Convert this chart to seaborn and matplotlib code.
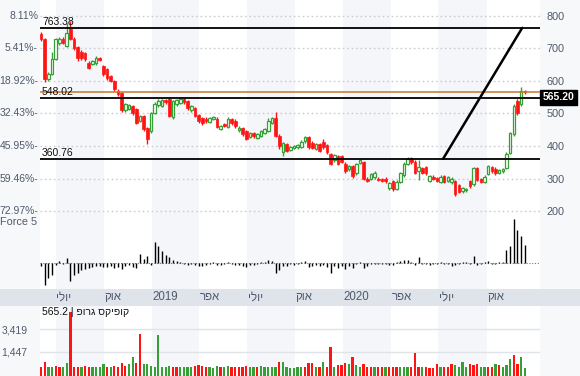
import matplotlib
matplotlib.use('Agg')
import numpy as np
import pandas as pd
import matplotlib.pyplot as plt
import matplotlib.dates as mdates
import matplotlib.transforms as mtransforms
from matplotlib.patches import Rectangle
import seaborn as sns

# weekly candles
dates = pd.date_range('2018-06-03', periods=133, freq='7D')
opens = [745, 728, 605, 622, 668, 718, 730, 708, 760, 730, 705, 690, 686, 656, 652, 655, 670, 646, 637, 615,
         600, 570, 563, 510, 515, 522, 514, 478, 492, 455, 446, 502, 525, 524, 540, 545, 488, 528, 532, 545,
         538, 510, 517, 495, 486, 484, 475, 484, 484, 452, 468, 458, 482, 478, 448, 454, 446, 428, 440, 426,
         432, 440, 446, 472, 486, 432, 382, 406, 388, 394, 396, 398, 414, 428, 410, 392, 406, 412, 402, 375,
         356, 368, 368, 345, 328, 338, 316, 348, 350, 300, 298, 305, 300, 298, 300, 271, 292, 268, 290, 310,
         345, 362, 352, 322, 332, 334, 292, 306, 302, 290, 308, 292, 288, 292, 280, 262, 264, 292, 282, 332,
         298, 290, 314, 334, 330, 318, 322, 332, 378, 437, 538, 529, 568]
highs = [750, 732, 628, 690, 732, 736, 734, 778, 785, 734, 708, 695, 690, 660, 665, 676, 674, 650, 640, 618,
         603, 574, 566, 532, 530, 526, 518, 496, 496, 458, 505, 534, 545, 546, 544, 548, 541, 545, 550, 548,
         542, 526, 520, 498, 490, 488, 490, 492, 488, 466, 472, 488, 486, 482, 460, 458, 450, 444, 444, 440,
         450, 456, 486, 490, 506, 436, 412, 410, 400, 404, 406, 418, 432, 432, 414, 410, 410, 420, 406, 378,
         376, 372, 372, 350, 342, 342, 348, 360, 354, 304, 318, 322, 304, 302, 304, 290, 296, 294, 320, 352,
         366, 366, 356, 356, 336, 338, 312, 310, 306, 310, 312, 308, 304, 296, 284, 274, 272, 296, 336, 336,
         302, 310, 340, 338, 334, 328, 332, 380, 444, 528, 545, 582, 572]
lows = [722, 598, 600, 618, 665, 712, 714, 704, 726, 695, 662, 664, 660, 636, 648, 650, 660, 616, 604, 596,
        570, 555, 505, 505, 512, 495, 468, 474, 447, 405, 440, 498, 520, 520, 530, 488, 484, 524, 528, 530,
        512, 506, 488, 472, 464, 472, 470, 480, 455, 448, 458, 454, 466, 456, 444, 432, 418, 424, 426, 422,
        428, 436, 442, 468, 428, 392, 370, 380, 384, 390, 392, 394, 410, 392, 390, 388, 380, 392, 374, 342,
        352, 340, 348, 318, 324, 302, 312, 344, 294, 288, 294, 300, 292, 290, 286, 264, 262, 264, 286, 306,
        340, 346, 314, 296, 314, 312, 288, 296, 288, 286, 286, 288, 284, 246, 254, 256, 260, 272, 278, 292,
        286, 286, 310, 318, 312, 314, 318, 328, 374, 432, 495, 524, 560]
closes = [728, 605, 622, 668, 728, 730, 718, 748, 730, 700, 670, 670, 668, 640, 661, 672, 665, 622, 610, 600,
          576, 560, 510, 528, 525, 500, 472, 492, 452, 420, 500, 530, 538, 540, 536, 492, 538, 540, 546, 535,
          517, 522, 492, 477, 470, 478, 486, 488, 458, 462, 462, 482, 470, 460, 456, 436, 422, 440, 430, 436,
          446, 452, 478, 486, 432, 400, 408, 385, 396, 400, 402, 412, 428, 396, 394, 406, 384, 396, 380, 346,
          372, 346, 352, 322, 338, 308, 344, 356, 300, 292, 314, 318, 296, 293, 292, 286, 268, 290, 316, 345,
          360, 350, 318, 336, 318, 316, 308, 300, 292, 306, 290, 304, 300, 252, 258, 270, 268, 276, 332, 296,
          290, 306, 338, 322, 316, 326, 330, 375, 440, 523, 500, 569, 565.2]

force5 = [-3, -22, -15, -12, -2, 2, -1, 5, -18, -12, -10, -7, -6, -5, -4, -3, -3, -4, -4, -3,
          -5, -4, -6, -3, -2, -4, -5, 9, 4, 7, -2, 21, 17, 12, 8, 6, 3, 2, 1, -1,
          -2, -1, -2, -3, -3, -2, -1, 1, -2, -2, -1, 1, -1, -2, -2, -3, -4, -2, -2, -1,
          1, 1, 3, 2, -10, -7, -3, -3, -1, -2, -1, 1, 2, -4, -3, -2, -3, -2, -4, -10,
          -3, -5, -3, -6, -3, -5, -1, 1, -5, -3, -1, -1, -1, -1, -1, -2, -2, 1, 2, 3,
          3, 1, -2, 6, -1, -1, -2, -1, -1, 1, -1, -1, -3, -2, -1, 1, 1, -1, 7, -2,
          -1, 1, 2, -1, -1, 1, 1, 13, 17, 44, 33, 27, 18]

volume = [160, 593, 100, 160, 217, 160, 100, 507, 4937, 160, 160, 160, 217, 100, 100, 160, 160, 362, 100, 160,
          217, 160, 449, 217, 362, 1028, 449, 2997, 362, 362, 217, 160, 2910, 100, 100, 217, 160, 100, 100, 100,
          100, 100, 217, 304, 217, 100, 100, 40, 217, 100, 100, 217, 160, 160, 160, 160, 217, 100, 100, 160,
          217, 160, 100, 100, 160, 593, 593, 160, 72, 72, 100, 160, 100, 507, 449, 100, 160, 593, 160, 1839,
          100, 275, 275, 507, 362, 1028, 304, 160, 362, 100, 100, 100, 160, 100, 100, 100, 160, 100, 160, 100,
          100, 100, 1318, 100, 160, 100, 40, 40, 362, 100, 100, 100, 391, 275, 100, 536, 100, 391, 275, 391,
          100, 100, 100, 100, 391, 275, 100, 275, 825, 1173, 391, 1028, 40]
vol_dir = list('rrggrrggrrrgrrggggrgrrrrggrrggggggggrrggggrrrrgggrggrrrrrgg'
               'rgggggrggggggrrrgrgrrgrrrgrggrrrgrrgrrrgggrrrgrrrrgrrrggggrrrggrrgrggg')[:133]

levels = [763.38, 548.02, 360.76]
last_price = 565.20
trend_dates = ['2020-07-10', '2020-12-08']
trend_values = [360.76, 763.38]

price_ticks = [200, 300, 400, 500, 600, 700, 800]
pct_labels = ['72.97%-', '59.46%-', '45.95%-', '32.43%-', '18.92%-', '5.41%-', '8.11%']
vol_ticks = [1447, 3419]
vol_labels = ['1,447', '3,419']

month_starts = ['2018-07-01', '2018-10-01', '2019-01-01', '2019-04-01', '2019-07-01',
                '2019-10-01', '2020-01-01', '2020-04-01', '2020-07-01', '2020-10-01']
month_labels = ['יולי', 'אוק', '2019', 'אפר', 'יולי', 'אוק', '2020', 'אפר', 'יולי', 'אוק']
shaded_quarters = [('2018-07-01', '2018-10-01'), ('2019-01-01', '2019-04-01'),
                   ('2019-07-01', '2019-10-01'), ('2020-01-01', '2020-04-01'),
                   ('2020-07-01', '2020-10-01')]
title = 'קופיקס גרופ'


def visual(s):
    # matplotlib has no bidi: flip hebrew runs into visual order
    if any('\u0590' <= ch <= '\u05ff' for ch in s):
        return s[::-1]
    return s


sns.set_style('white')
plt.rcParams['font.family'] = ['Liberation Sans', 'DejaVu Sans']
SLATE = '#4f5a6c'
RED = '#ff1414'
GREEN = '#35a035'
BAND = '#f4f6f9'

W, H = 580, 376
fig = plt.figure(figsize=(W / 100, H / 100), dpi=100)
fig.patch.set_facecolor('#f7f8fa')


def box(top, bottom):
    return [40 / W, 1 - bottom / H, 500 / W, (bottom - top) / H]


fig.patches.append(Rectangle((0, 1 - 306 / H), 1, 17 / H, transform=fig.transFigure,
                             facecolor='#dfe3ea', edgecolor='none', zorder=-5))
ax = fig.add_axes(box(0, 215))
axf = fig.add_axes(box(215, 289), sharex=ax)
axd = fig.add_axes(box(289, 306), sharex=ax)
axv = fig.add_axes(box(306, 376), sharex=ax)

x = mdates.date2num(dates)
o, h, l, c = map(np.array, (opens, highs, lows, closes))
up = c >= o
xmin, xmax = mdates.date2num(pd.Timestamp('2018-06-01')), mdates.date2num(pd.Timestamp('2021-01-11'))

for a in (ax, axf, axv):
    a.set_facecolor('white')
    for s0, s1 in shaded_quarters:
        a.axvspan(pd.Timestamp(s0), pd.Timestamp(s1), color=BAND, lw=0, zorder=0)
    for sp in a.spines.values():
        sp.set_visible(False)
axd.set_facecolor('none')
axd.patch.set_alpha(0)
for sp in axd.spines.values():
    sp.set_visible(False)

# ---- price panel
for t in price_ticks:
    ax.axhline(t, color='#c9cdd4', lw=1, ls=(0, (1.2, 2)), zorder=1)
ax.vlines(x[up], l[up], h[up], color=GREEN, lw=1, zorder=2)
ax.vlines(x[~up], l[~up], h[~up], color=RED, lw=1, zorder=2)
body_lo = np.minimum(o, c)
body_h = np.maximum(np.abs(c - o), 1.5)
ax.bar(x[up], body_h[up], bottom=body_lo[up], width=5.0, facecolor='white',
       edgecolor=GREEN, linewidth=0.9, zorder=3)
ax.bar(x[~up], body_h[~up], bottom=body_lo[~up], width=5.0, facecolor=RED,
       edgecolor=RED, linewidth=0.5, zorder=3)

trans = mtransforms.blended_transform_factory(ax.transAxes, ax.transData)
for lv in levels:
    ax.axhline(lv, color='black', lw=1.3, zorder=4)
    ax.text(0.004, lv + 3, f'{lv:.2f}', transform=trans,
            ha='left', va='bottom', fontsize=7.5, color='#111111', zorder=5)
ax.axhline(last_price, color='#c7752d', lw=1.1, zorder=4)
sns.lineplot(x=pd.to_datetime(trend_dates), y=trend_values, ax=ax, color='black', lw=1.8, zorder=5)

ax.set_ylim(187.7, 849.2)
ax.set_yticks(price_ticks)
ax.yaxis.tick_right()
ax.tick_params(axis='y', length=0, pad=5, labelsize=7.8, labelcolor=SLATE)
ax.tick_params(axis='x', length=0, labelbottom=False)
for t, lab in zip(price_ticks, pct_labels):
    ax.text(-0.004, t, lab, transform=trans, ha='right', va='center', fontsize=7.5, color=SLATE)
ax.text(1.006, last_price, f'{last_price:.2f}', transform=trans, ha='left', va='top',
        fontsize=7.5, fontweight='bold', color='white',
        bbox=dict(boxstyle='square,pad=0.25', facecolor='black', edgecolor='black'))
ax.set_ylabel('')
ax.set_xlabel('')

# ---- force panel
axf.axhline(0, color='#777777', lw=0.8, ls=(0, (1, 1.5)), zorder=1)
axf.vlines(x, 0, force5, color='black', lw=1.0, zorder=3)
axf.set_ylim(-25.7, 48.3)
axf.set_yticks([])
axf.tick_params(axis='x', length=0, labelbottom=False)
axf.text(-0.006, 0.9, 'Force 5', transform=axf.transAxes, ha='right', va='center', fontsize=7.8, color=SLATE)

# ---- date band
axd.set_yticks([])
axd.tick_params(axis='x', length=0, labelbottom=False)
dtrans = mtransforms.blended_transform_factory(axd.transData, axd.transAxes)
for d, lab in zip(month_starts, month_labels):
    axd.text(mdates.date2num(pd.Timestamp(d)) + 1.5, 0.5, visual(lab), ha='left', va='center',
             fontsize=8.3, color=SLATE, transform=dtrans)

# ---- volume panel
VOL_FLOOR = -652
vol = np.array(volume, dtype=float)
vcol = [GREEN if d == 'g' else RED for d in vol_dir]
for t in vol_ticks:
    axv.axhline(t, color='#e0e3e8', lw=1, zorder=1)
axv.bar(x, vol - VOL_FLOOR, bottom=VOL_FLOOR, width=4.4, color=vcol, edgecolor='none', zorder=3)
axv.set_ylim(VOL_FLOOR, 5431)
axv.set_yticks(vol_ticks)
axv.set_yticklabels(vol_labels)
axv.tick_params(axis='y', length=0, pad=9, labelsize=7.5, labelcolor=SLATE)
axv.tick_params(axis='x', length=0, labelbottom=False)
axv.text(0.004, 0.91, f'{last_price:.1f} | ' + visual(title), transform=axv.transAxes,
         ha='left', va='center', fontsize=7.5, color='#111111', zorder=5)

ax.set_xlim(xmin, xmax)

fig.savefig('out.png', dpi=100, facecolor=fig.get_facecolor())
